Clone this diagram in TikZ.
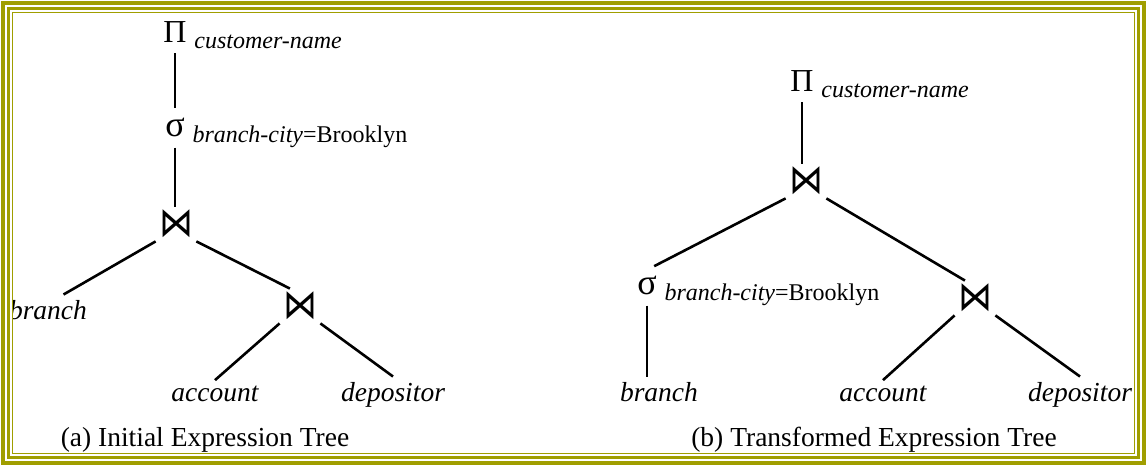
\documentclass[tikz,border=0pt]{standalone}
\usepackage{fontspec}
\setmainfont{Liberation Serif}[
	UprightFont={Liberation Serif},
	ItalicFont={Liberation Serif Italic}]
\newfontfamily\opfont{DejaVu Sans}
\usetikzlibrary{positioning}
\definecolor{frameolive}{RGB}{160,158,0}

\begin{document}
\begin{tikzpicture}[
	x=0.5pt, y=0.5pt,
	every node/.style={font=\fontsize{13.75}{16}\selectfont},
	leaf/.style={anchor=base, inner sep=3pt, font=\fontsize{13.75}{16}\selectfont\itshape},
	unary/.style={anchor=base, inner sep=5pt, font=\fontsize{16}{18}\selectfont},
	cond/.style={anchor=base west, inner sep=0pt, xshift=-1.5pt, yshift=-3pt, font=\fontsize{12}{14}\selectfont},
	natjoin/.style={inner sep=1.5pt, font=\fontsize{17}{18}\opfont},
	treeline/.style={line width=1.3pt},
	olivebox/.style={draw=frameolive}]
\useasboundingbox (0,0) rectangle (1147,466);

% (a) initial tree
\node[unary] (p1) at (175,423) {Π};
\node[cond] (p1c) at (p1.base east) {\itshape customer-name};
\node[unary] (s1) at (175,329) {\fontsize{18}{18}\selectfont σ};
\node[cond] (s1c) at (s1.base east) {\itshape branch-city\upshape=Brooklyn};
\node[natjoin] (j1) at (176,242) {\scalebox{1}[1.2]{⋈}};
\node[leaf] (b1) at (48,146) {branch};
\node[natjoin] (j2) at (300,160) {\scalebox{1}[1.2]{⋈}};
\node[leaf] (a1) at (215,64) {account};
\node[leaf] (d1) at (393,64) {depositor};
\node[anchor=base] (c1) at (205,19) {(a) Initial Expression Tree};

\draw[treeline] (p1) -- (s1);
\draw[treeline] (s1) -- (s1 |- j1.north);
\draw[treeline] (j1.south west) -- (b1.46);
\draw[treeline] (j1.south east) -- (j2.120);
\draw[treeline] (j2.south west) -- (a1.north);
\draw[treeline] (j2.south east) -- (d1.north);

% (b) transformed tree
\node[unary] (p2) at (802,374) {Π};
\node[cond] (p2c) at (p2.base east) {\itshape customer-name};
\node[natjoin] (j3) at (806,285) {\scalebox{1}[1.2]{⋈}};
\node[unary] (s2) at (647,171) {\fontsize{18}{18}\selectfont σ};
\node[cond] (s2c) at (s2.base east) {\itshape branch-city\upshape=Brooklyn};
\node[leaf] (b2) at (659,64) {branch};
\node[natjoin] (j4) at (975,168) {\scalebox{1}[1.2]{⋈}};
\node[leaf] (a2) at (883,64) {account};
\node[leaf] (d2) at (1080,64) {depositor};
\node[anchor=base] (c2) at (874,19) {(b) Transformed Expression Tree};

\draw[treeline] (p2) -- (p2 |- j3.north);
\draw[treeline] (j3.south west) -- (s2.70);
\draw[treeline] (j3.south east) -- (j4.120);
\draw[treeline] (s2.south) -- (s2.south |- b2.north);
\draw[treeline] (j4.south west) -- (a2.north);
\draw[treeline] (j4.south east) -- (d2.north);

% frame
\fill[white, even odd rule] (0,0) rectangle (1147,466) (12,12) rectangle (1135,454);
\draw[olivebox, line width=1.75pt] (3,3) rectangle (1144,463);
\draw[olivebox, line width=1.5pt] (8.5,8.5) rectangle (1138.5,457.5);
\draw[olivebox, line width=0.6pt] (12.5,12.5) rectangle (1134.5,453.5);
\end{tikzpicture}
\end{document}
